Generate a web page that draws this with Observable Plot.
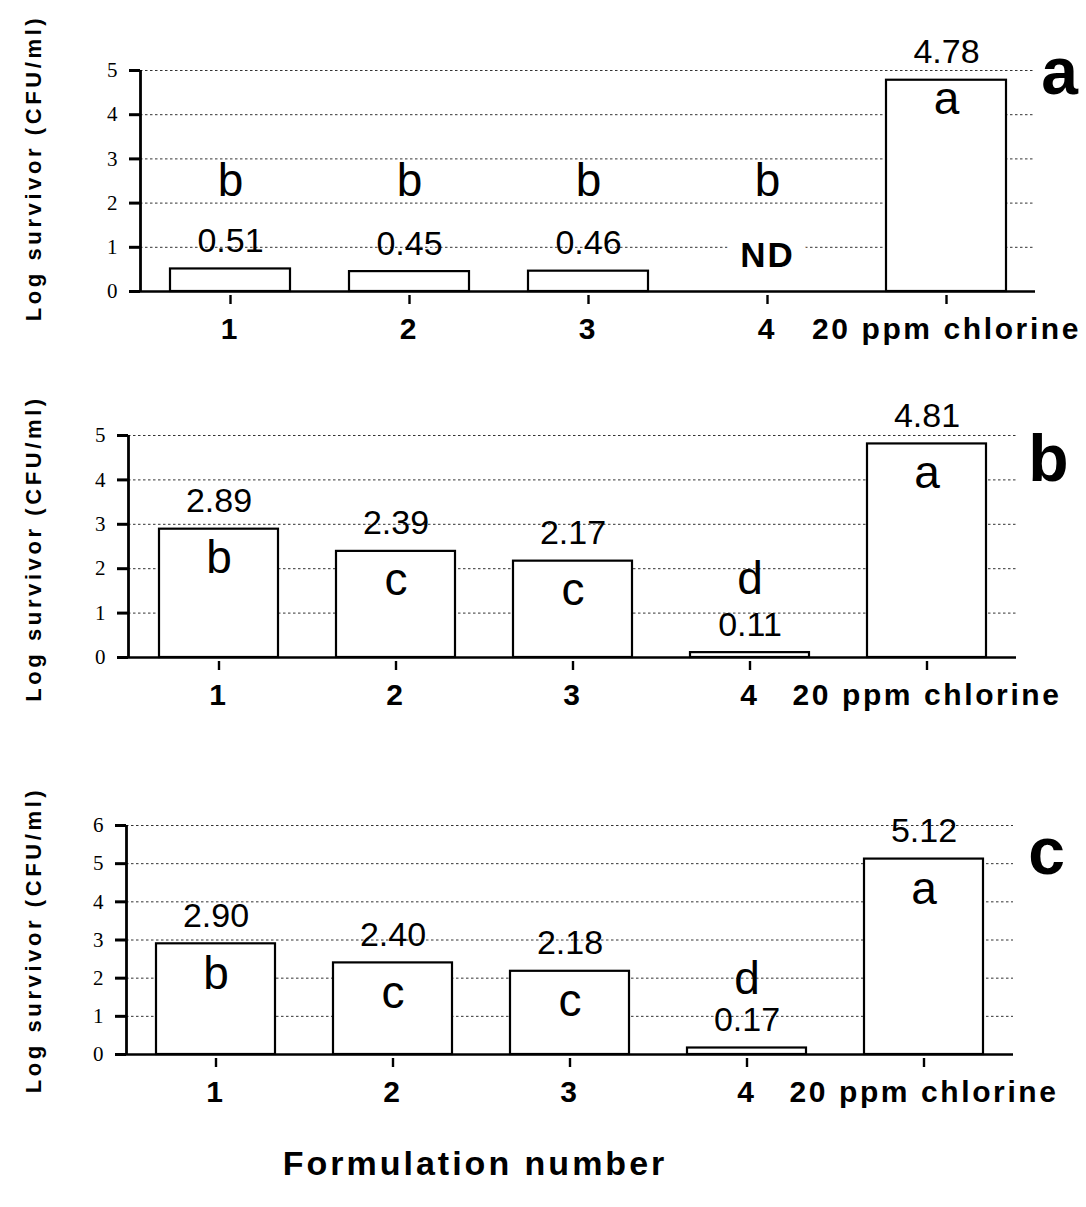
<!DOCTYPE html>
<html><head><meta charset="utf-8">
<script src="https://cdn.jsdelivr.net/npm/d3@7"></script>
<script src="https://cdn.jsdelivr.net/npm/@observablehq/plot@0.6"></script>
<style>
body{margin:0;background:#fff;}
#wrap{position:relative;width:1086px;height:1207px;background:#fff;overflow:hidden;}
.panel{position:absolute;left:0;}
#xtitle{position:absolute;left:0;width:950px;text-align:center;top:1146px;font:bold 34px "Liberation Sans",Arial,sans-serif;letter-spacing:3px;line-height:1;color:#000;}
</style></head><body>
<div id="wrap"><div id="xtitle">Formulation number</div></div>
<script>
// ---- data ----
const categories = ["1", "2", "3", "4", "20 ppm chlorine"];
const panelNames = ["a", "b", "c"];
const valuesA = [0.51, 0.45, 0.46, 0, 4.78];
const valuesB = [2.89, 2.39, 2.17, 0.11, 4.81];
const valuesC = [2.90, 2.40, 2.18, 0.17, 5.12];
const labelsA = ["0.51", "0.45", "0.46", "ND", "4.78"];
const labelsB = ["2.89", "2.39", "2.17", "0.11", "4.81"];
const labelsC = ["2.90", "2.40", "2.18", "0.17", "5.12"];
const lettersA = ["b", "b", "b", "b", "a"];
const lettersB = ["b", "c", "c", "d", "a"];
const lettersC = ["b", "c", "c", "d", "a"];
const yTicksAB = [0, 1, 2, 3, 4, 5];
const yTicksC = [0, 1, 2, 3, 4, 5, 6];
const yTitle = "Log survivor (CFU/ml)";

// ---- layout / style ----
const SANS = '"Liberation Sans", Arial, sans-serif';
const SERIF = '"Liberation Serif", "Times New Roman", serif';
const layouts = [
  {top: 0,   height: 365, mt: 70, mb: 70, ml: 140, mr: 51, titleDy: -15, nameDx: 24, nameDy: 23, insideDy: 34, aboveDy: -55, fixedDy: -100},
  {top: 365, height: 395, mt: 70, mb: 99, ml: 128, mr: 70, titleDy: 0,   nameDx: 32, nameDy: 45, insideDy: 44, aboveDy: -59, fixedDy: null},
  {top: 760, height: 360, mt: 65, mb: 62, ml: 126, mr: 73, titleDy: -2,  nameDx: 33, nameDy: 48, insideDy: 45, aboveDy: -54, fixedDy: null}
];
const allValues = [valuesA, valuesB, valuesC];
const allLabels = [labelsA, labelsB, labelsC];
const allLetters = [lettersA, lettersB, lettersC];
const allTicks = [yTicksAB, yTicksAB, yTicksC];

const wrap = document.getElementById("wrap");

layouts.forEach((L, p) => {
  const rows = categories.map((c, i) => ({cat: c, value: allValues[p][i], label: allLabels[p][i], letter: allLetters[p][i]}));
  const ticks = allTicks[p];
  const yMax = ticks[ticks.length - 1];
  const frameW = 1086 - L.ml - L.mr;
  const inside = rows.filter(d => d.value >= 2);
  const small = rows.filter(d => d.value < 2);
  const letterMarks = [
    Plot.text(inside, {x: "cat", y: "value", text: "letter", dy: L.insideDy, lineAnchor: "bottom", fontSize: 46}),
    L.fixedDy != null
      ? Plot.text(small, {x: "cat", frameAnchor: "bottom", text: "letter", dy: L.fixedDy, lineAnchor: "bottom", fontSize: 46})
      : Plot.text(small, {x: "cat", y: "value", text: "letter", dy: L.aboveDy, lineAnchor: "bottom", fontSize: 46})
  ];
  const svg = Plot.plot({
    width: 1086, height: L.height,
    marginTop: L.mt, marginBottom: L.mb, marginLeft: L.ml, marginRight: L.mr,
    x: {type: "band", domain: categories, paddingInner: 0.33, paddingOuter: 0.165, label: null},
    y: {domain: [0, yMax], insetBottom: 4, label: null},
    style: {fontFamily: SANS, color: "black", background: "white", overflow: "visible"},
    marks: [
      Plot.ruleY(ticks.filter(t => t > 0), {stroke: "#333", strokeWidth: 1, strokeDasharray: "2.5,2.5"}),
      Plot.barY(rows.filter(d => d.value > 0), {x: "cat", y: "value", fill: "white", stroke: "black", strokeWidth: 2.2}),
      Plot.ruleY([0], {stroke: "black", strokeWidth: 2.6}),
      Plot.ruleX([0], {x: null, y1: 0, y2: yMax, dx: -frameW / 2, stroke: "black", strokeWidth: 2.8}),
      Plot.axisY({ticks, tickSize: 11, tickPadding: 12, strokeWidth: 3, fontSize: 21, fontFamily: SERIF, label: null, tickFormat: d => String(d)}),
      Plot.axisX({tickSize: 9, tickPadding: 13, strokeWidth: 2.4, fontSize: 30, fontWeight: "bold", fontFamily: SANS, label: null}),
      Plot.text(rows.filter(d => d.label !== "ND"), {x: "cat", y: "value", text: "label", dy: -17, lineAnchor: "bottom", fontSize: 34}),
      Plot.text(rows.filter(d => d.label === "ND"), {x: "cat", y: "value", text: "label", dy: -25, lineAnchor: "bottom", fontSize: 35, fontWeight: "bold", fill: "black", stroke: "white", strokeWidth: 30, strokeLinejoin: "round", paintOrder: "stroke"}),
      ...letterMarks,
      Plot.text([panelNames[p]], {frameAnchor: "top-right", textAnchor: "middle", lineAnchor: "bottom", dx: L.nameDx, dy: L.nameDy, fontSize: 66, fontWeight: "bold"}),
      Plot.text([yTitle], {frameAnchor: "left", textAnchor: "middle", lineAnchor: "middle", rotate: -90, dx: 33 - L.ml, dy: L.titleDy, fontSize: 22, fontWeight: "bold"})
    ]
  });
  svg.classList.add("panel");
  svg.style.top = L.top + "px";
  svg.style.position = "absolute";
  svg.style.left = "0px";
  svg.querySelectorAll('g[aria-label="x-axis tick label"] text').forEach(t => t.setAttribute("letter-spacing", "2.6"));
  svg.querySelectorAll("text").forEach(t => {
    if (t.textContent === yTitle) t.setAttribute("letter-spacing", "3.6");
    if (t.textContent === "ND") t.setAttribute("letter-spacing", "2");
  });
  wrap.appendChild(svg);
});
</script>
</body></html>
